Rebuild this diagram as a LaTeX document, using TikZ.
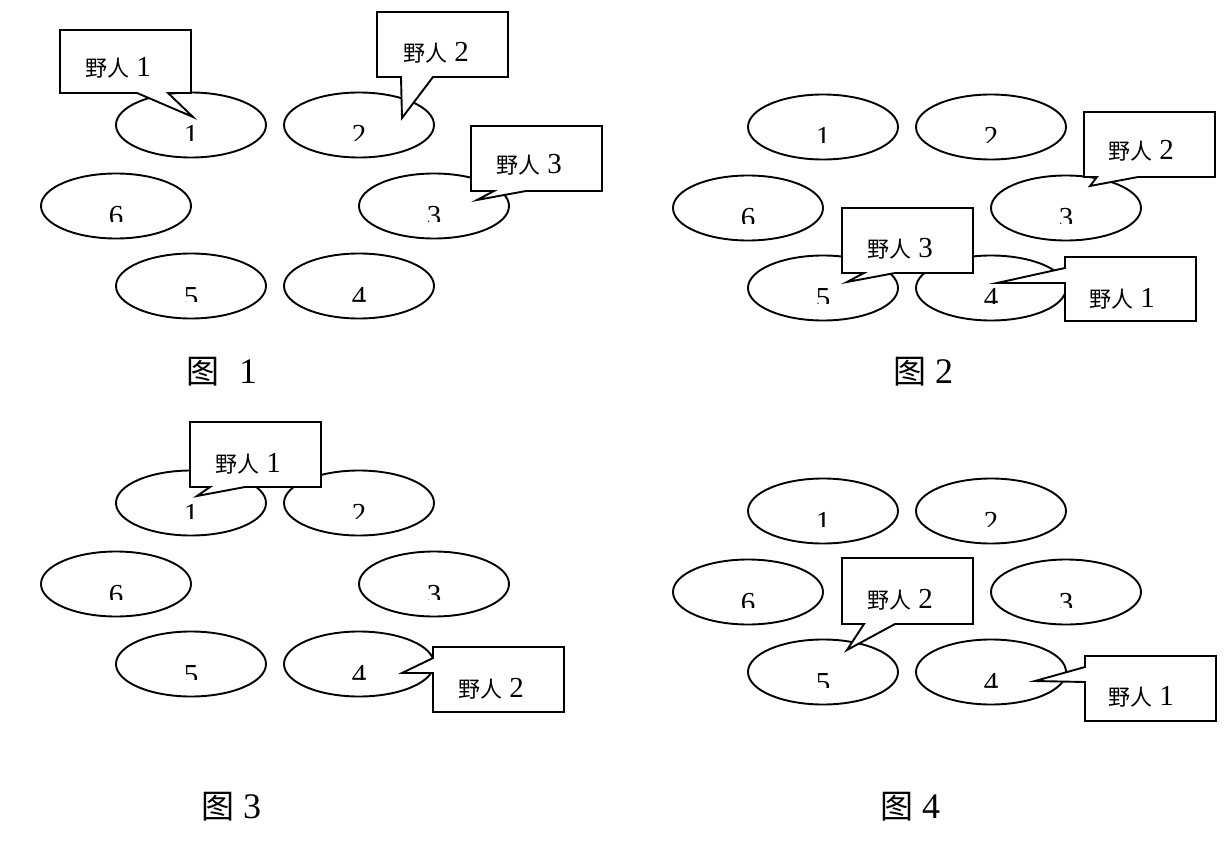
\documentclass[tikz,border=0pt]{standalone}
\usepackage{fontspec}
\setmainfont{Liberation Serif}
\newfontfamily\cjk{Noto Sans CJK SC}
\usetikzlibrary{shapes.geometric}
\newcommand\yeren[1]{{\fontsize{22}{22}\cjk 野人}\fontsize{29}{29}\selectfont\ #1}
\newcommand\tufig[2]{{\fontsize{33}{33}\cjk 图}\fontsize{36}{36}\selectfont\hspace*{#2}#1}
\newcommand\dig[4]{\begin{scope}\clip (#2-20,#3-6) rectangle (#2+20,#3+15.5);\node[num] (#1) at (#2,#3+20) {#4};\end{scope}}
\newcommand\panel[3]{%
\begin{scope}[shift={(#2,#3)}]
\node[ell] (#1e1) at (0,0) {};
\node[ell] (#1e2) at (168,0) {};
\node[ell] (#1e6) at (-75,81) {};
\node[ell] (#1e3) at (243,81) {};
\node[ell] (#1e5) at (0,161) {};
\node[ell] (#1e4) at (168,161) {};
\dig{#1n1}{0}{0}{1}
\dig{#1n2}{168}{0}{2}
\dig{#1n6}{-75}{81}{6}
\dig{#1n3}{243}{81}{3}
\dig{#1n5}{0}{161}{5}
\dig{#1n4}{168}{161}{4}
\end{scope}}
\tikzset{
 ell/.style={draw, ellipse, line width=1.9, minimum width=150, minimum height=65, inner sep=0},
 callout/.style={draw, fill=white, line width=1.9, line join=miter},
 lbl/.style={anchor=base west, inner sep=0},
 num/.style={anchor=base, inner sep=0, font=\fontsize{29}{29}\selectfont}
}
\begin{document}
\begin{tikzpicture}[x=1pt,y=-1pt]
\useasboundingbox (0,0) rectangle (1230,866);
\panel{a}{191}{125}
\panel{b}{823}{127}
\panel{c}{191}{503}
\panel{d}{823}{511}
% panel 1 callouts
\draw[callout] (60,30) -- (191,30) -- (191,93) -- (168,93) -- (193,117) -- (137,93) -- (60,93) -- cycle;
\node[lbl] (at1) at (85,77) {\yeren{1}};
\draw[callout] (377,12) -- (508,12) -- (508,77) -- (433,77) -- (402,118) -- (401,77) -- (377,77) -- cycle;
\node[lbl] (at2) at (403,62) {\yeren{2}};
\draw[callout] (471,126) -- (602,126) -- (602,191) -- (526,191) -- (477,200) -- (494,191) -- (471,191) -- cycle;
\node[lbl] (at3) at (496,174) {\yeren{3}};
% panel 2 callouts
\draw[callout] (1084,112) -- (1215,112) -- (1215,177) -- (1138,177) -- (1090,186) -- (1097,177) -- (1084,177) -- cycle;
\node[lbl] (bt2) at (1108,160) {\yeren{2}};
\draw[callout] (842,208) -- (973,208) -- (973,273) -- (895,273) -- (847,282) -- (864,273) -- (842,273) -- cycle;
\node[lbl] (bt3) at (867,258) {\yeren{3}};
\draw[callout] (1065,257) -- (1196,257) -- (1196,321) -- (1065,321) -- (1065,283) -- (997,283) -- (1065,268) -- cycle;
\node[lbl] (bt1) at (1089,307) {\yeren{1}};
% panel 3 callouts
\draw[callout] (190,422) -- (321,422) -- (321,487) -- (245,487) -- (197,496) -- (210,487) -- (190,487) -- cycle;
\node[lbl] (ct1) at (215,472) {\yeren{1}};
\draw[callout] (433,647) -- (564,647) -- (564,712) -- (433,712) -- (433,673) -- (402,673) -- (433,658) -- cycle;
\node[lbl] (ct2) at (458,697) {\yeren{2}};
% panel 4 callouts
\draw[callout] (842,558) -- (973,558) -- (973,624) -- (895,624) -- (847,650) -- (864,624) -- (842,624) -- cycle;
\node[lbl] (dt2) at (867,608) {\yeren{2}};
\draw[callout] (1085,656) -- (1216,656) -- (1216,721) -- (1085,721) -- (1085,682) -- (1035,681) -- (1085,667) -- cycle;
\node[lbl] (dt1) at (1108,705) {\yeren{1}};
% captions
\node[lbl] (cap1) at (186,383) {\tufig{1}{20pt}};
\node[lbl] (cap2) at (893,383) {\tufig{2}{9pt}};
\node[lbl] (cap3) at (201,818) {\tufig{3}{9pt}};
\node[lbl] (cap4) at (880,818) {\tufig{4}{9pt}};
\end{tikzpicture}
\end{document}
